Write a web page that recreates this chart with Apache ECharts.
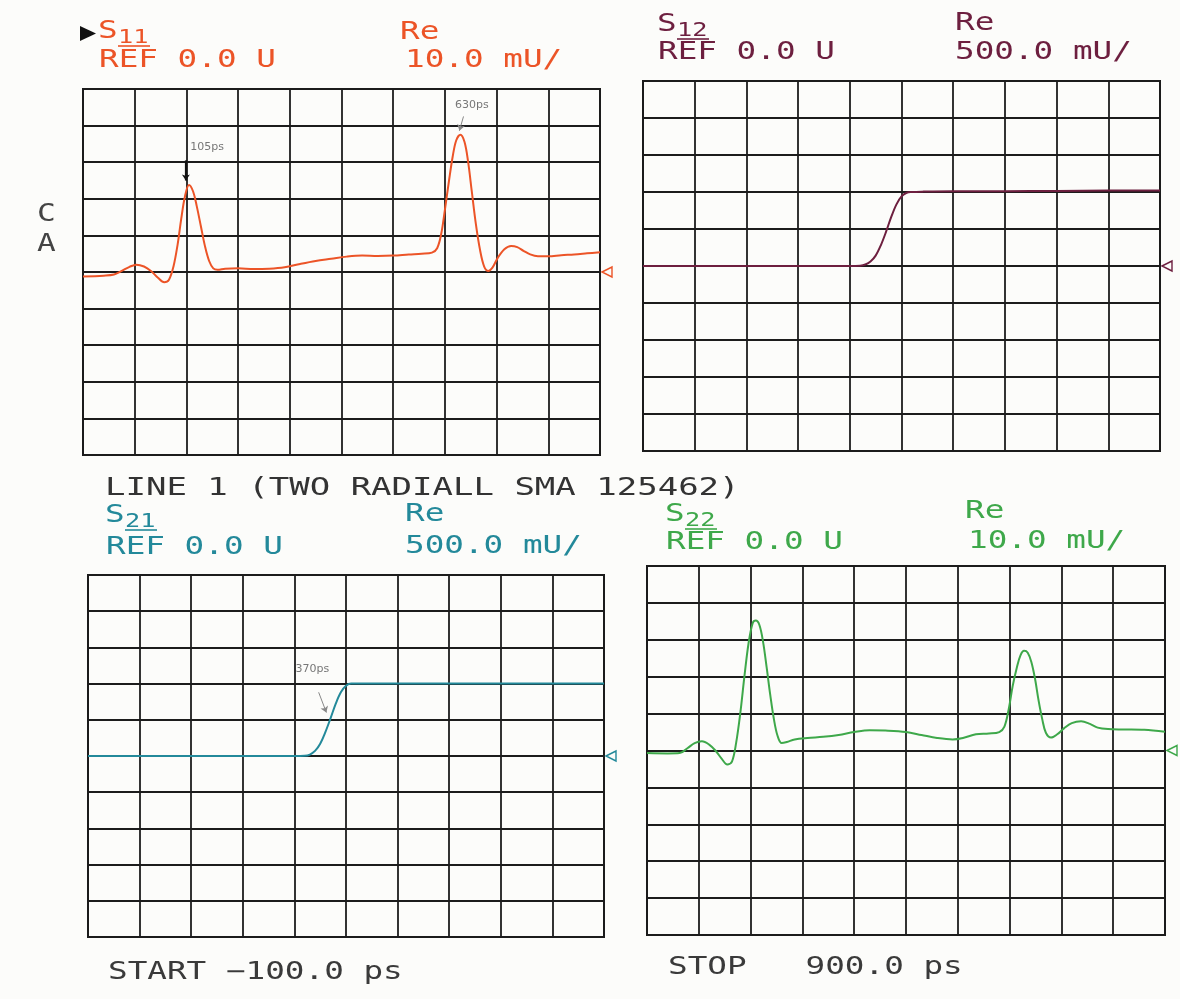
<!DOCTYPE html>
<html><head><meta charset="utf-8">
<script src="https://cdn.jsdelivr.net/npm/echarts@6/dist/echarts.min.js"></script>
<style>html,body{margin:0;padding:0;background:#fcfcfa}#c{width:1180px;height:999px}</style>
</head><body><div id="c"></div>
<script>
// ---- data (time in ps, S11/S22 in mU, S12/S21 in U) ----
const timeStart = -100, timeStop = 900, timeStep = 100;
const s11Time = [-100,-60,-40,-25,-10,3,18,32,45,57,66,75,83,90,97,105,113,120,128,136,144,152,160,175,200,230,260,290,320,350,380,410,440,470,500,530,555,575,585,593,600,608,615,622,630,638,645,652,660,668,676,684,692,702,715,728,740,752,765,780,800,825,850,875,900];
const s11Val  = [-1.2,-1.0,-0.7,0.3,1.4,2.0,1.5,0.2,-1.6,-2.8,-2.2,1.5,7.5,14.5,20.5,23.8,22.0,18.0,12.5,7.0,3.0,1.0,0.6,0.9,1.0,0.8,0.9,1.3,2.2,3.0,3.6,4.2,4.5,4.4,4.5,4.8,5.0,5.3,6.5,10.5,17,25,31.5,36,37.5,35.5,30,22,13,6,1.5,0.3,1.2,3.8,6.2,7.1,6.8,5.8,4.8,4.3,4.3,4.6,4.8,5.1,5.4];
const s12Time = [-100,0,100,200,300,320,330,340,350,360,370,380,390,400,410,420,440,500,600,700,800,900];
const s12Val  = [0,0,0,0,0,0.005,0.02,0.06,0.14,0.28,0.46,0.66,0.83,0.94,0.99,1.0,1.005,1.01,1.01,1.015,1.02,1.02];
const s21Time = [-100,0,100,200,300,320,330,340,350,360,370,380,390,400,410,430,500,600,700,800,900];
const s21Val  = [0,0,0,0,0,0.003,0.02,0.07,0.17,0.33,0.52,0.72,0.88,0.97,1.0,1.0,1.0,1.0,1.0,1.0,1.0];
const s22Time = [-100,-60,-37,-22,-8,6,20,32,44,55,64,72,80,88,96,104,110,117,124,131,138,145,152,160,170,185,210,240,270,300,330,360,400,430,460,490,510,535,560,580,590,598,606,614,621,628,635,642,649,656,663,670,680,692,705,720,738,755,770,790,820,860,900];
const s22Val  = [-0.7,-0.8,-0.7,0.6,2.0,2.5,1.6,0,-2.2,-3.8,-3.0,2,10,20,29,34.5,35.2,34,29.5,22.5,15,8.5,4,2.0,2.3,3.0,3.4,3.7,4.2,5.0,5.5,5.4,5.0,4.2,3.4,3.0,3.4,4.4,4.6,5.0,6.5,11,17.5,22.5,25.8,27,26.5,24,19.5,13.5,8.5,4.8,3.5,4.4,6.0,7.4,7.9,7.2,6.2,5.8,5.7,5.6,5.1];
// y scales: [min, max, interval] per panel
const scaleMilli = [-50, 50, 10];
const scaleUnit  = [-2.5, 2.5, 0.5];
// annotations written on the plot
const notes = [
  {panel:0, text:'105ps', at:[140, 34], from:[99, 30.5], to:[99, 25.0], dark:true},
  {panel:0, text:'630ps', at:[652, 45.5], from:[636, 42.5], to:[628, 38.6]},
  {panel:2, text:'370ps', at:[335, 1.2], from:[347, 0.88], to:[362, 0.6]}
];

const C11='#ec5427', C12='#6d1f3f', C21='#23899a', C22='#3ea84a';
const FONT='"DejaVu Sans Mono", "Liberation Mono", monospace';
const chart = echarts.init(document.getElementById('c'));
const zip = (t,v)=>t.map((x,i)=>[x,v[i]]);

const gridBoxes = [
  {left:83, top:89, width:517, height:366},
  {left:643, top:81, width:517, height:370},
  {left:88, top:575, width:516, height:362},
  {left:647, top:566, width:518, height:369}
];
const panels = [
  {name:'S11', data:zip(s11Time,s11Val), color:C11, scale:scaleMilli},
  {name:'S12', data:zip(s12Time,s12Val), color:C12, scale:scaleUnit},
  {name:'S21', data:zip(s21Time,s21Val), color:C21, scale:scaleUnit},
  {name:'S22', data:zip(s22Time,s22Val), color:C22, scale:scaleMilli}
];
const gridLine = {show:true, lineStyle:{color:'#1c1c1c', width:1.8}};

const series = panels.map((p,i)=>{
  const myNotes = notes.filter(n=>n.panel===i);
  return {
    type:'line', name:p.name, xAxisIndex:i, yAxisIndex:i, data:p.data,
    smooth:0.35, showSymbol:false, symbol:'none', animation:false,
    lineStyle:{color:p.color, width:2}, z:5,
    markPoint:{
      animation:false, silent:true,
      data:[{coord:[timeStop,0], symbol:'path://M0,5 L10,0 L10,10 Z', symbolSize:[10,10], symbolOffset:[7,0],
             itemStyle:{color:'#fcfcfa', borderColor:p.color, borderWidth:1.4}, label:{show:false}}]
        .concat(myNotes.map(n=>({coord:n.at, symbol:'circle', symbolSize:0.01,
             label:{show:true, formatter:n.text, color:'#777', fontSize:11, fontFamily:'DejaVu Sans', position:'inside'}})))
    },
    markLine: myNotes.length ? {
      animation:false, silent:true, symbol:['none','arrow'], symbolSize:6, label:{show:false},
      data: myNotes.map(n=>[{coord:n.from, lineStyle:{color:n.dark?'#111':'#888', width:n.dark?2.2:1, type:'solid'}},{coord:n.to}])
    } : undefined
  };
});

// text helper
function txt(text, x, y, color, size, sx){
  return {type:'text', x:x, y:y, scaleX:sx||1.36, silent:true, z:10,
    style:{text:text, fill:color, fontSize:size||24, fontFamily:FONT, verticalAlign:'top'}};
}
function header(p, sx, sy, refY, reX, reY, valX, valY, scaleText){
  const sub = p.name.slice(1);
  return [
    txt('S', sx, sy, p.color, 24),
    txt(sub, sx+20, sy+9, p.color, 19, 1.33),
    {type:'line', silent:true, z:10, shape:{x1:sx+20, y1:sy+26, x2:sx+52, y2:sy+26}, style:{stroke:p.color, lineWidth:1.6}},
    txt('REF 0.0 U', sx+1, refY, p.color, 24),
    txt('Re', reX, reY, p.color, 24),
    txt(scaleText, valX, valY, p.color, 24)
  ];
}
const graphics = [].concat(
  [{type:'polygon', silent:true, shape:{points:[[80,26],[80,41],[96,33.5]]}, style:{fill:'#111'}}],
  header(panels[0], 98, 20, 49, 400, 21, 405, 49, '10.0 mU/'),
  header(panels[1], 657, 13, 41, 955, 12, 955, 41, '500.0 mU/'),
  [txt('LINE 1 (TWO RADIALL SMA 125462)', 105, 476, '#333', 25, 1.36)],
  header(panels[2], 105, 504, 536, 405, 503, 405, 535, '500.0 mU/'),
  header(panels[3], 665, 503, 531, 965, 500, 968, 530, '10.0 mU/'),
  [txt('START \u2212100.0 ps', 108, 961, '#3a3a3a', 24),
   txt('STOP   900.0 ps', 668, 956, '#3a3a3a', 24),
   txt('C', 37, 203, '#444', 24, 1.3),
   txt('A', 37, 233, '#444', 24, 1.3)]
);

chart.setOption({
  backgroundColor:'#fcfcfa',
  animation:false,
  grid: gridBoxes.map(g=>Object.assign({show:true, borderColor:'#1a1a1a', borderWidth:2, backgroundColor:'transparent', containLabel:false}, g)),
  xAxis: panels.map((p,i)=>({gridIndex:i, type:'value', min:timeStart, max:timeStop, interval:timeStep,
    axisLine:{show:false}, axisTick:{show:false}, axisLabel:{show:false}, splitLine:gridLine})),
  yAxis: panels.map((p,i)=>({gridIndex:i, type:'value', min:p.scale[0], max:p.scale[1], interval:p.scale[2],
    axisLine:{show:false}, axisTick:{show:false}, axisLabel:{show:false}, splitLine:gridLine})),
  series: series,
  graphic: graphics
});
</script></body></html>
